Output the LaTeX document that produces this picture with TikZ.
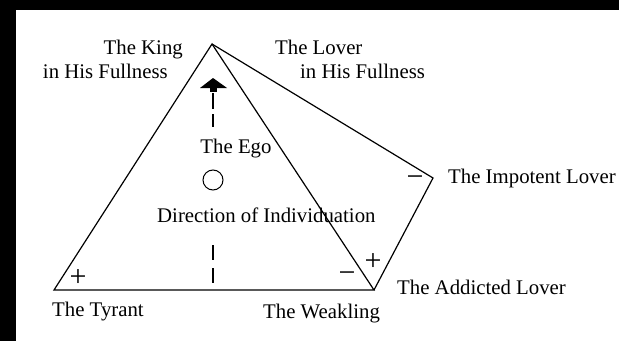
\documentclass[tikz,border=0pt]{standalone}
\usepackage{fontspec}
\setmainfont{Liberation Serif}
\usepackage{tikz}
\usetikzlibrary{arrows.meta, positioning, calc}

\begin{document}
\begin{tikzpicture}[x=1pt, y=1pt,
    lbl/.style={inner sep=0pt, font=\fontsize{20.8}{24}\selectfont},
    sign/.style={inner sep=0pt, font=\fontsize{30}{30}\selectfont}]
  % frame
  \fill[black] (0,0) rectangle (619,341);
  \fill[white] (16,0) rectangle (619,331);
  \useasboundingbox (0,0) rectangle (619,341);
  % corners
  \coordinate (king) at (212,297);
  \coordinate (tyrant) at (54,51);
  \coordinate (weak) at (374,51);
  \coordinate (impot) at (433,163);
  \draw[line width=1.2pt, line join=miter] (king) -- (tyrant) -- (weak) -- cycle;
  \draw[line width=1.2pt, line join=miter] (king) -- (impot) -- (weak);
  % ego and the way up
  \draw[line width=1pt] (213,161) circle (10);
  \fill (200,253) -- (227,253) -- (213,263) -- cycle;
  \fill (209.5,249) rectangle (216.5,253);
  \draw[line width=1.3pt, dash pattern=on 16pt off 5pt] (213,248) -- (213,214);
  \draw[line width=1.3pt, dash pattern=on 15pt off 8pt] (213,96) -- (213,54);
  % labels
  \node[lbl, anchor=base east] (kingA) at (183,287) {The King};
  \node[lbl, anchor=base east] (kingB) at (168,263) {in His Fullness};
  \node[lbl, anchor=base west] (loverA) at (275,287) {The Lover};
  \node[lbl, anchor=base west] (loverB) at (300,263) {in His Fullness};
  \node[lbl, anchor=base] (ego) at (236,188) {The Ego};
  \node[lbl, anchor=base west] (indiv) at (157,119) {Direction of Individuation};
  \node[lbl, anchor=base west] (tyr) at (52,25) {The Tyrant};
  \node[lbl, anchor=base west] (wkl) at (263,23) {The Weakling};
  \node[lbl, anchor=base west] (addl) at (397,47) {The Addicted Lover};
  \node[lbl, anchor=base west] (impl) at (448,158) {The Impotent Lover};
  % signs
  \node[sign] (pT) at (78,63) {+};
  \node[sign] (mW) at (347,64) {−};
  \node[sign] (pA) at (373,79) {+};
  \node[sign] (mI) at (415,160) {−};
\end{tikzpicture}
\end{document}
